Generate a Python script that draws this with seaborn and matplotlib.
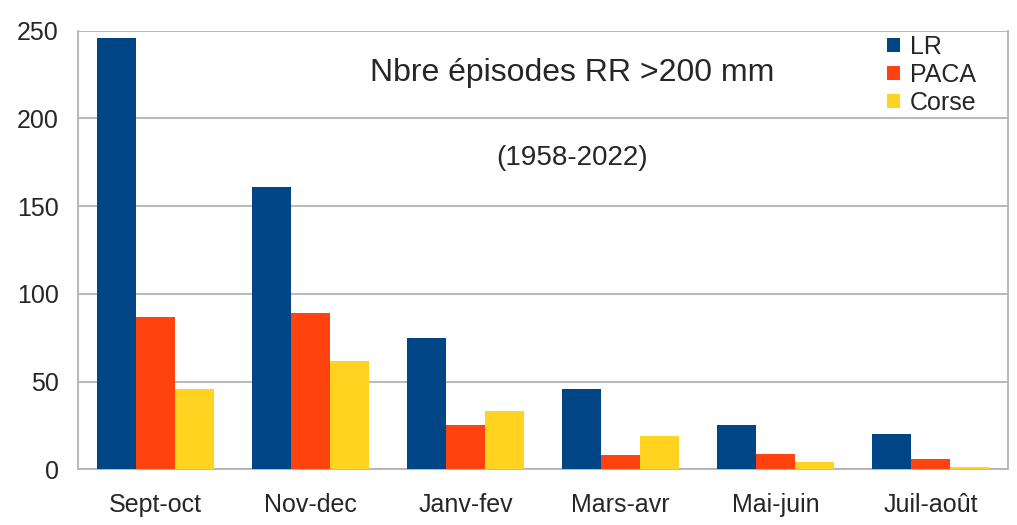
import pandas as pd
import matplotlib.pyplot as plt
import seaborn as sns
from matplotlib.ticker import FixedLocator

# Values
periods = ['Sept-oct', 'Nov-dec', 'Janv-fev', 'Mars-avr', 'Mai-juin', 'Juil-août']
lr = [246, 161, 75, 46, 25, 20]
paca = [87, 89, 25, 8, 9, 6]
corse = [46, 62, 33, 19, 4, 1.5]
regions = ['LR', 'PACA', 'Corse']
colors = ['#004586', '#ff420e', '#ffd320']
y_ticks = [0, 50, 100, 150, 200, 250]

df = pd.DataFrame({'periode': periods * 3,
                   'region': ['LR'] * 6 + ['PACA'] * 6 + ['Corse'] * 6,
                   'n': lr + paca + corse})

sns.set_style('white')
plt.rcParams['font.family'] = ['Liberation Sans', 'DejaVu Sans']

fig = plt.figure(figsize=(10.17, 5.25), dpi=100)
ax = fig.add_axes([0.0767, 0.106, 0.9145, 0.8355])

sns.barplot(data=df, x='periode', y='n', hue='region', hue_order=regions,
            palette=colors, width=0.75, saturation=1, linewidth=0,
            ax=ax, zorder=3)

grid_c = '#b3b3b3'
ax.set_ylim(0, 250)
ax.set_xlim(-0.5, 5.5)
ax.set_yticks(y_ticks)
ax.yaxis.grid(True, color=grid_c, linewidth=1.3, zorder=0)
ax.tick_params(axis='y', length=8, width=1.3, color=grid_c, labelsize=18, pad=6)
ax.tick_params(axis='x', which='major', length=0, labelsize=18, pad=17)
ax.xaxis.set_minor_locator(FixedLocator([i - 0.5 for i in range(7)]))
ax.tick_params(axis='x', which='minor', length=7, width=1.3, color=grid_c)
for side in ['left', 'bottom', 'right']:
    ax.spines[side].set_color(grid_c)
    ax.spines[side].set_linewidth(1.3)
ax.spines['top'].set_visible(False)
ax.set_xlabel('')
ax.set_ylabel('')

ax.legend(title=None, loc='upper right', bbox_to_anchor=(0.985, 1.03), frameon=False,
          fontsize=18, handlelength=0.5, handleheight=0.5, handletextpad=0.4,
          labelspacing=0.15, borderpad=0.2)

ax.text(0.531, 0.904, 'Nbre épisodes RR >200 mm', transform=ax.transAxes,
        ha='center', va='center', fontsize=23)
ax.text(0.531, 0.71, '(1958-2022)', transform=ax.transAxes,
        ha='center', va='center', fontsize=20)

fig.savefig('out.png', dpi=100)
